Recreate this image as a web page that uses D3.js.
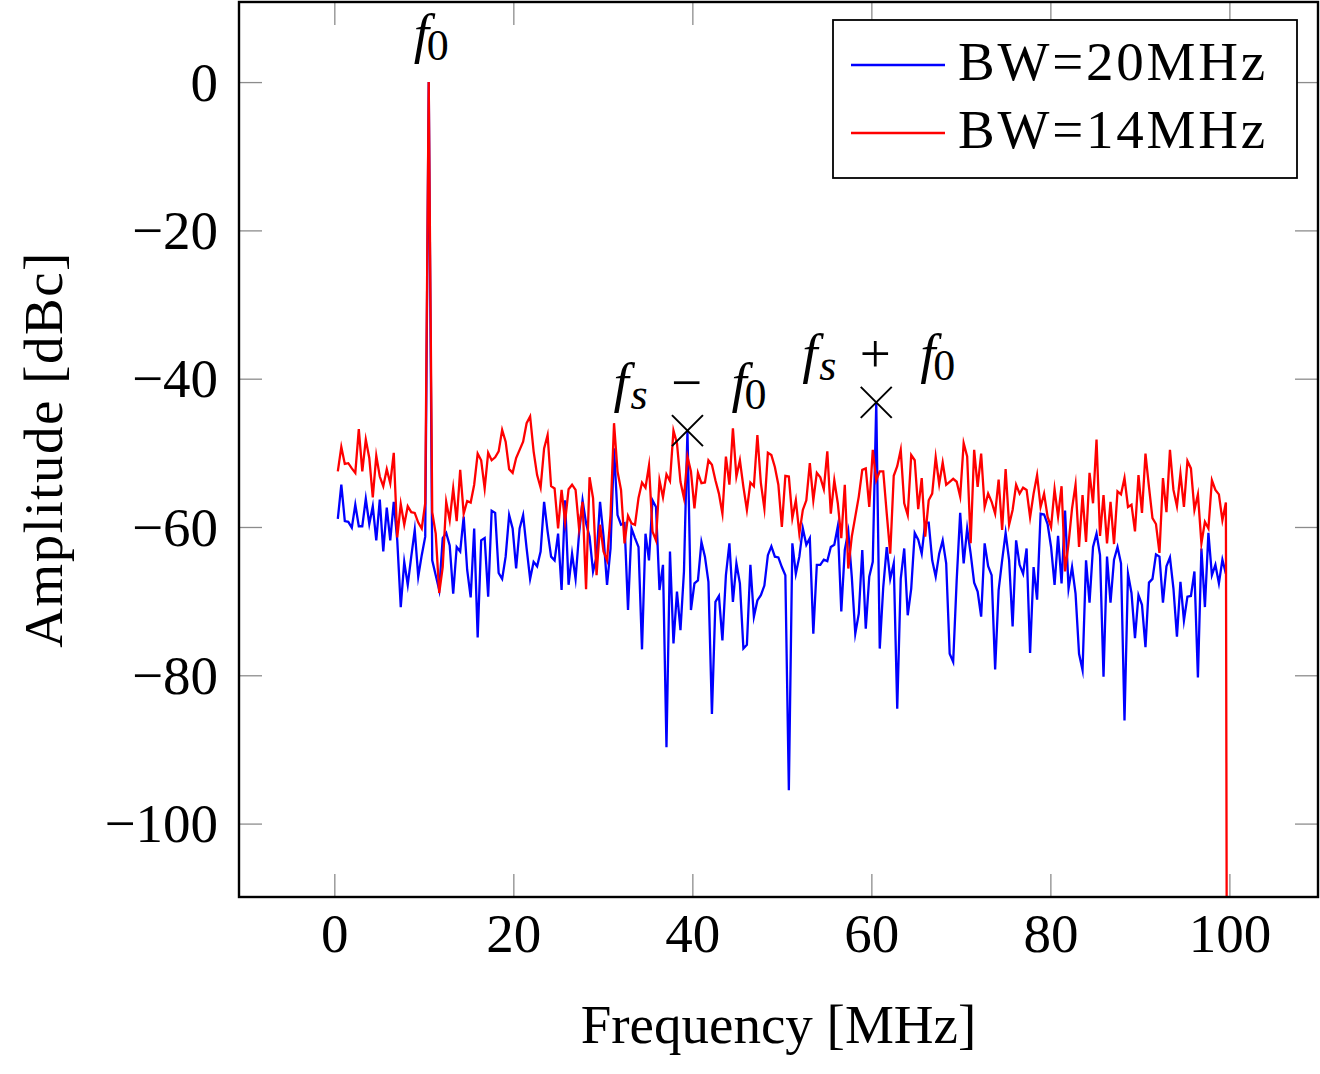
<!DOCTYPE html>
<html><head><meta charset="utf-8">
<script src="https://cdn.jsdelivr.net/npm/d3@7"></script>
<style>html,body{margin:0;padding:0;background:#fff;} svg{display:block;}</style>
</head><body><svg id="chart" width="1320" height="1074"></svg>
<script>
// ---- data ----
const freqStep = 100 / 256; // MHz per FFT bin, bins 1..N
const seriesNames = ["BW=20MHz", "BW=14MHz"];
const seriesColors = ["#0000ff", "#ff0000"];
const blueValues = [
-58.9,-54.3,-59.2,-59.3,-60.1,-57.0,-59.9,-59.9,-56.2,-59.6,
-57.2,-61.8,-56.3,-63.3,-57.4,-61.8,-56.6,-61.8,-70.8,-64.7,
-67.8,-64.0,-60.4,-66.7,-63.8,-61.3,0,-64.5,-66.5,-68.5,
-61.5,-60.8,-62.5,-69.0,-62.7,-63.3,-58.6,-65.8,-69.5,-60.2,
-74.9,-61.8,-61.5,-69.4,-57.8,-58.1,-66.2,-67.0,-64.0,-58.4,
-60.2,-65.6,-60.2,-58.4,-62.9,-67.0,-64.7,-65.3,-63.3,-56.6,
-60.6,-64.0,-64.5,-60.9,-68.5,-56.4,-67.8,-63.6,-67.0,-60.9,
-56.4,-59.5,-61.3,-66.0,-64.0,-56.6,-61.3,-67.8,-62.9,-49.4,
-58.4,-59.7,-59.5,-71.2,-60.2,-61.5,-62.7,-76.5,-60.9,-64.5,
-56.4,-57.3,-68.5,-65.1,-89.7,-63.3,-75.7,-68.7,-73.9,-66.0,
-47.0,-71.2,-67.6,-67.2,-62.0,-64.0,-67.4,-85.2,-70.1,-69.3,
-75.3,-66.5,-62.2,-70.1,-64.9,-67.6,-76.4,-75.9,-65.1,-72.1,
-69.9,-69.2,-67.9,-63.8,-62.6,-64.0,-64.1,-65.4,-66.5,-95.5,
-62.2,-66.3,-64.0,-60.2,-62.4,-61.5,-74.4,-65.1,-65.1,-64.4,
-64.6,-62.7,-62.4,-59.9,-71.4,-63.1,-60.6,-66.7,-74.4,-71.7,
-63.1,-73.7,-66.7,-64.7,-43.2,-76.4,-68.1,-62.7,-67.0,-64.9,
-84.5,-67.0,-62.9,-71.9,-68.3,-60.8,-61.7,-63.6,-59.4,-59.4,
-64.5,-66.7,-63.6,-61.8,-64.9,-77.1,-78.2,-67.2,-58.1,-64.9,
-60.2,-63.6,-67.5,-68.7,-72.1,-62.2,-65.3,-66.5,-79.2,-68.5,
-64.5,-60.8,-64.5,-73.4,-61.8,-65.1,-66.3,-62.9,-77.0,-65.4,
-69.8,-58.2,-58.3,-59.6,-62.7,-67.8,-61.2,-67.6,-57.8,-68.3,
-65.4,-69.0,-77.1,-79.3,-64.5,-70.2,-62.7,-60.9,-63.8,-80.2,
-64.0,-70.2,-64.4,-62.7,-64.9,-86.1,-66.3,-68.9,-75.0,-69.2,
-70.5,-76.2,-67.5,-67.0,-63.7,-64.0,-70.2,-65.3,-64.1,-68.3,
-74.8,-67.4,-72.6,-69.4,-69.3,-66.0,-80.3,-62.9,-70.8,-60.8,
-66.5,-65.1,-67.6,-64.4,-66.3
];
const redValues = [
-52.5,-49.2,-51.5,-51.4,-52.1,-52.7,-46.8,-52.5,-48.2,-50.7,
-56.0,-50.4,-53.2,-54.5,-52.2,-54.1,-50.0,-61.4,-56.9,-59.7,
-57.2,-58.0,-58.1,-59.4,-60.2,-56.8,0,-58.0,-60.9,-68.9,
-65.4,-56.6,-59.1,-54.8,-59.2,-52.3,-58.2,-56.5,-56.7,-54.3,
-50.1,-51.0,-54.8,-50.0,-51.0,-50.6,-49.8,-46.9,-48.5,-52.2,
-52.7,-50.7,-49.6,-48.5,-46.0,-45.1,-49.8,-53.0,-54.7,-49.4,
-47.6,-54.5,-54.8,-60.2,-55.0,-59.3,-54.9,-54.3,-55.0,-60.2,
-56.6,-68.4,-53.3,-56.1,-66.5,-59.7,-63.3,-64.5,-58.4,-46.0,
-52.5,-55.0,-62.2,-58.5,-59.5,-59.7,-56.1,-54.0,-54.7,-51.7,
-60.6,-61.8,-53.7,-56.0,-52.9,-53.8,-47.0,-48.7,-53.9,-56.1,
-50.5,-52.5,-57.5,-52.7,-54.1,-54.0,-51.0,-51.6,-53.7,-55.5,
-58.2,-50.5,-54.3,-46.7,-53.2,-51.0,-54.6,-57.7,-54.0,-54.5,
-47.6,-54.1,-57.5,-50.0,-50.3,-51.9,-54.3,-60.0,-53.1,-53.2,
-58.8,-56.4,-60.9,-57.7,-56.4,-51.4,-56.4,-52.7,-53.3,-54.9,
-49.8,-58.2,-53.7,-56.8,-61.5,-54.3,-65.6,-61.3,-58.6,-55.9,
-52.3,-52.1,-57.3,-49.6,-53.7,-52.5,-52.5,-58.2,-63.6,-53.1,
-51.8,-49.6,-56.8,-58.4,-50.3,-51.0,-57.6,-53.4,-61.3,-56.4,
-55.5,-50.6,-54.2,-51.3,-54.3,-53.9,-53.5,-53.9,-55.9,-48.7,
-50.5,-62.2,-49.6,-54.6,-50.1,-57.3,-55.5,-56.6,-58.2,-53.6,
-60.4,-52.2,-59.7,-57.7,-54.3,-55.5,-54.7,-55.0,-58.7,-55.5,
-53.0,-57.3,-55.5,-58.6,-60.0,-54.9,-58.6,-54.5,-66.0,-62.2,
-57.5,-54.3,-62.7,-55.7,-62.0,-52.7,-56.8,-48.2,-61.2,-55.7,
-62.2,-56.6,-62.3,-55.2,-55.6,-53.4,-57.3,-57.0,-60.6,-53.0,
-58.1,-50.1,-54.6,-58.8,-59.6,-63.5,-53.4,-58.0,-49.6,-55.0,
-57.2,-52.8,-57.3,-51.1,-52.1,-57.7,-55.6,-62.2,-59.3,-60.2,
-53.7,-55.0,-55.6,-59.1,-56.7,-300
];
const xTicks = [0, 20, 40, 60, 80, 100];
const xTickLabels = ["0", "20", "40", "60", "80", "100"];
const yTicks = [0, -20, -40, -60, -80, -100];
const yTickLabels = ["0", "\u221220", "\u221240", "\u221260", "\u221280", "\u2212100"];
const xTitle = "Frequency [MHz]";
const yTitle = "Amplitude [dBc]";
// annotations (bin index on the BW=20MHz series)
const annotBins = [27, 101, 155];
const annotKinds = ["f0", "fs-f0", "fs+f0"];
const markerBins = [101, 155];

// ---- layout ----
const W = 1320, H = 1074;
const pL = 239, pR = 1318, pT = 2, pB = 897;
const FONT = "'Liberation Serif', 'Times New Roman', serif";
const FS = 55;

const svg = d3.select("#chart");
const x = d3.scaleLinear().domain([-10.65, 109.9]).range([pL, pR]);
const y = d3.scaleLinear().domain([-109.9, 10.8]).range([pB, pT]);

const binFreq = i => (i + 1) * freqStep;
const blue = blueValues.map((v, i) => ({f: binFreq(i), v}));
const red = redValues.map((v, i) => ({f: binFreq(i), v}));

svg.append("rect").attr("width", W).attr("height", H).attr("fill", "#fff");

svg.append("defs").append("clipPath").attr("id", "plotclip")
  .append("rect").attr("x", pL).attr("y", pT).attr("width", pR - pL).attr("height", pB - pT);

const tickLen = 23;
const tickColor = "#8c8c8c";
function styleAxis(g) {
  g.select(".domain").remove();
  g.selectAll(".tick line").attr("stroke", tickColor).attr("stroke-width", 1.3);
}
const gxB = svg.append("g").attr("transform", `translate(0,${pB})`)
  .call(d3.axisBottom(x).tickValues(xTicks).tickSizeInner(-tickLen).tickSizeOuter(0)
    .tickFormat((d, i) => xTickLabels[i]).tickPadding(0));
styleAxis(gxB);
gxB.selectAll(".tick text").attr("y", 55).attr("dy", 0)
  .attr("font-family", FONT).attr("font-size", FS).attr("fill", "#000");

const gxT = svg.append("g").attr("transform", `translate(0,${pT})`)
  .call(d3.axisTop(x).tickValues(xTicks).tickSizeInner(-tickLen).tickSizeOuter(0).tickFormat(""));
styleAxis(gxT);

const gyL = svg.append("g").attr("transform", `translate(${pL},0)`)
  .call(d3.axisLeft(y).tickValues(yTicks).tickSizeInner(-tickLen).tickSizeOuter(0)
    .tickFormat((d, i) => yTickLabels[i]).tickPadding(0));
styleAxis(gyL);
gyL.selectAll(".tick text").attr("x", -21).attr("dy", "0.33em")
  .attr("font-family", FONT).attr("font-size", FS).attr("fill", "#000");

const gyR = svg.append("g").attr("transform", `translate(${pR},0)`)
  .call(d3.axisRight(y).tickValues(yTicks).tickSizeInner(-tickLen).tickSizeOuter(0).tickFormat(""));
styleAxis(gyR);

const line = d3.line().x(d => x(d.f)).y(d => y(d.v));
const plot = svg.append("g").attr("clip-path", "url(#plotclip)");
[blue, red].forEach((s, i) => {
  plot.append("path").datum(s).attr("d", line).attr("fill", "none")
    .attr("stroke", seriesColors[i]).attr("stroke-width", 2.3).attr("stroke-linejoin", "miter").attr("stroke-miterlimit", 10);
});

const mk = svg.append("g");
markerBins.forEach(b => {
  const cx = x(binFreq(b - 1)), cy = y(blueValues[b - 1]);
  const s = 15.5;
  mk.append("path").attr("d", `M${cx - s},${cy - s}L${cx + s},${cy + s}M${cx - s},${cy + s}L${cx + s},${cy - s}`)
    .attr("stroke", "#000").attr("stroke-width", 2).attr("fill", "none");
});

const SUB = 44;
function mathLabel(kind, ax, ay) {
  const base = ay - 30, subBase = base + 8;
  const g = svg.append("g").attr("font-family", FONT).attr("fill", "#000");
  const put = (t, dx, yy, size, italic, anchor) => g.append("text").attr("x", ax + dx).attr("y", yy)
    .attr("font-size", size).attr("font-style", italic ? "italic" : "normal")
    .attr("text-anchor", anchor || "start").text(t);
  if (kind === "f0") {
    put("f", -15, base, FS, true);
    put("0", -2, subBase, SUB, false);
  } else {
    put("f", -74, base, FS, true);
    put("s", -57, subBase, SUB, true);
    put(kind === "fs-f0" ? "\u2212" : "+", -1, base, FS, false, "middle");
    put("f", 44, base, FS, true);
    put("0", 57, subBase, SUB, false);
  }
}
annotBins.forEach((b, i) => mathLabel(annotKinds[i], x(binFreq(b - 1)), y(blueValues[b - 1])));

svg.append("rect").attr("x", pL).attr("y", pT).attr("width", pR - pL).attr("height", pB - pT)
  .attr("fill", "none").attr("stroke", "#000").attr("stroke-width", 2.4);

const lg = svg.append("g");
lg.append("rect").attr("x", 833).attr("y", 20).attr("width", 464).attr("height", 158)
  .attr("fill", "#fff").attr("stroke", "#000").attr("stroke-width", 1.8);
seriesNames.forEach((n, i) => {
  const yy = 65 + i * 68;
  lg.append("line").attr("x1", 851).attr("x2", 945).attr("y1", yy).attr("y2", yy)
    .attr("stroke", seriesColors[i]).attr("stroke-width", 2.3);
  lg.append("text").attr("x", 958).attr("y", yy + 15).attr("font-family", FONT).attr("font-size", FS)
    .attr("letter-spacing", 2.8).attr("fill", "#000").text(n);
});

svg.append("text").attr("x", (pL + pR) / 2).attr("y", 1043).attr("text-anchor", "middle")
  .attr("font-family", FONT).attr("font-size", FS).attr("fill", "#000").text(xTitle);
svg.append("text").attr("transform", `translate(62,${(pT + pB) / 2}) rotate(-90)`).attr("text-anchor", "middle")
  .attr("font-family", FONT).attr("font-size", FS).attr("letter-spacing", 1.5).attr("fill", "#000").text(yTitle);
</script></body></html>
